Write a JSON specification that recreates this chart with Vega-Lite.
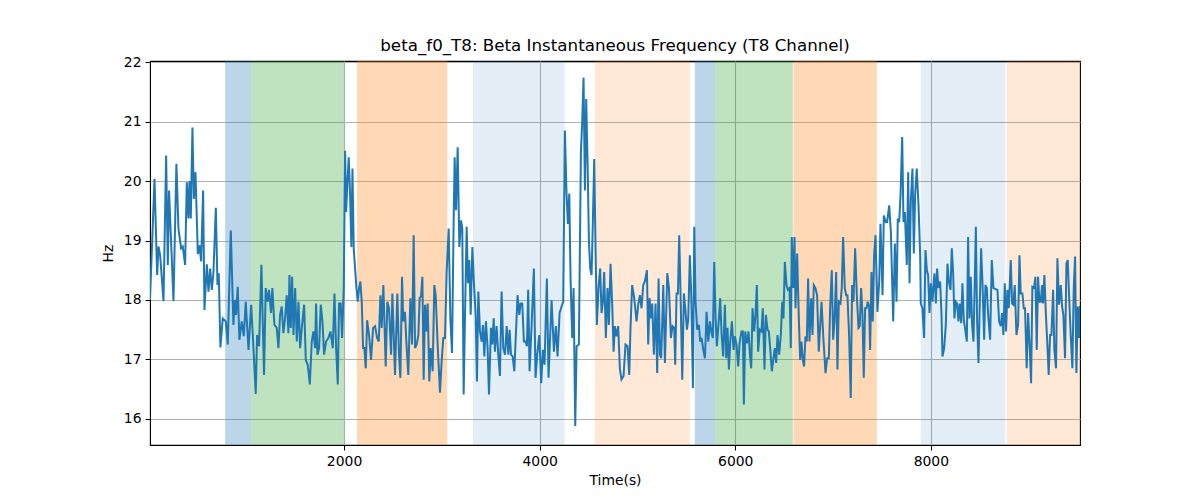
{
  "$schema": "https://vega.github.io/schema/vega-lite/v6.json",
  "width": 930,
  "height": 384,
  "autosize": {"type": "none"},
  "padding": {"left": 150, "top": 61, "right": 120, "bottom": 55},
  "title": {
    "text": "beta_f0_T8: Beta Instantaneous Frequency (T8 Channel)",
    "font": "DejaVu Sans",
    "fontSize": 16.7,
    "fontWeight": "normal",
    "color": "#000000",
    "offset": 0
  },
  "config": {
    "view": {"stroke": "#000000", "strokeWidth": 1.1},
    "axis": {
      "labelFont": "DejaVu Sans",
      "labelFontSize": 13.9,
      "labelColor": "#000000",
      "titleFont": "DejaVu Sans",
      "titleFontSize": 13.9,
      "titleFontWeight": "normal",
      "titleColor": "#000000",
      "domainColor": "#000000",
      "tickColor": "#000000",
      "tickSize": 5,
      "labelPadding": 4,
      "grid": true,
      "gridColor": "#b0b0b0",
      "gridWidth": 1.1
    }
  },
  "datasets": {
    "bands": [
      {"start": 784, "end": 1050, "kind": "a"},
      {"start": 1050, "end": 2000, "kind": "b"},
      {"start": 2133, "end": 3055, "kind": "c"},
      {"start": 3318, "end": 4255, "kind": "d"},
      {"start": 4565, "end": 5536, "kind": "e"},
      {"start": 5587, "end": 5795, "kind": "a"},
      {"start": 5795, "end": 6589, "kind": "b"},
      {"start": 6595, "end": 7448, "kind": "c"},
      {"start": 7897, "end": 8762, "kind": "d"},
      {"start": 8776, "end": 9525, "kind": "e"}
    ],
    "series": [
      {"t": 16, "hz": 18.0}, {"t": 62, "hz": 20.04}, {"t": 89, "hz": 18.42}, {"t": 103, "hz": 18.9}, {"t": 120, "hz": 18.75},
      {"t": 154, "hz": 17.98}, {"t": 181, "hz": 20.43}, {"t": 198, "hz": 18.59}, {"t": 211, "hz": 19.84}, {"t": 256, "hz": 17.98},
      {"t": 286, "hz": 20.29}, {"t": 307, "hz": 19.2}, {"t": 334, "hz": 18.87}, {"t": 351, "hz": 18.9}, {"t": 375, "hz": 18.59},
      {"t": 392, "hz": 19.98}, {"t": 409, "hz": 19.37}, {"t": 419, "hz": 20.0}, {"t": 433, "hz": 19.37}, {"t": 450, "hz": 20.9},
      {"t": 464, "hz": 19.7}, {"t": 481, "hz": 20.15}, {"t": 505, "hz": 18.77}, {"t": 522, "hz": 18.92}, {"t": 539, "hz": 18.65},
      {"t": 559, "hz": 19.84}, {"t": 573, "hz": 17.83}, {"t": 597, "hz": 18.6}, {"t": 614, "hz": 18.14}, {"t": 631, "hz": 18.53},
      {"t": 648, "hz": 18.17}, {"t": 665, "hz": 18.47}, {"t": 689, "hz": 19.55}, {"t": 706, "hz": 18.25}, {"t": 719, "hz": 18.45},
      {"t": 736, "hz": 17.2}, {"t": 760, "hz": 17.69}, {"t": 791, "hz": 17.64}, {"t": 811, "hz": 17.25}, {"t": 842, "hz": 19.17},
      {"t": 869, "hz": 17.58}, {"t": 883, "hz": 18.0}, {"t": 896, "hz": 17.75}, {"t": 913, "hz": 18.22}, {"t": 930, "hz": 17.33},
      {"t": 954, "hz": 17.64}, {"t": 975, "hz": 17.39}, {"t": 995, "hz": 17.97}, {"t": 1023, "hz": 17.16}, {"t": 1050, "hz": 17.92},
      {"t": 1067, "hz": 17.41}, {"t": 1097, "hz": 16.42}, {"t": 1111, "hz": 17.41}, {"t": 1131, "hz": 17.22}, {"t": 1155, "hz": 18.59},
      {"t": 1182, "hz": 16.74}, {"t": 1199, "hz": 18.2}, {"t": 1220, "hz": 17.97}, {"t": 1233, "hz": 18.17}, {"t": 1254, "hz": 17.78},
      {"t": 1267, "hz": 18.2}, {"t": 1288, "hz": 17.58}, {"t": 1312, "hz": 17.53}, {"t": 1329, "hz": 17.19}, {"t": 1346, "hz": 17.75},
      {"t": 1363, "hz": 17.89}, {"t": 1380, "hz": 17.44}, {"t": 1397, "hz": 17.69}, {"t": 1414, "hz": 18.08}, {"t": 1431, "hz": 17.44},
      {"t": 1442, "hz": 18.42}, {"t": 1455, "hz": 17.53}, {"t": 1469, "hz": 18.39}, {"t": 1483, "hz": 17.41}, {"t": 1500, "hz": 18.2},
      {"t": 1517, "hz": 17.3}, {"t": 1534, "hz": 17.97}, {"t": 1551, "hz": 17.19}, {"t": 1568, "hz": 17.53}, {"t": 1592, "hz": 17.92},
      {"t": 1609, "hz": 16.99}, {"t": 1629, "hz": 16.91}, {"t": 1650, "hz": 16.58}, {"t": 1670, "hz": 17.3}, {"t": 1687, "hz": 17.47},
      {"t": 1704, "hz": 17.19}, {"t": 1714, "hz": 17.94}, {"t": 1728, "hz": 17.08}, {"t": 1745, "hz": 17.19}, {"t": 1762, "hz": 17.92},
      {"t": 1779, "hz": 17.64}, {"t": 1796, "hz": 17.08}, {"t": 1816, "hz": 17.3}, {"t": 1840, "hz": 17.36}, {"t": 1861, "hz": 17.47},
      {"t": 1885, "hz": 17.19}, {"t": 1902, "hz": 18.11}, {"t": 1919, "hz": 17.19}, {"t": 1936, "hz": 16.58}, {"t": 1949, "hz": 17.94},
      {"t": 1966, "hz": 17.94}, {"t": 1980, "hz": 17.36}, {"t": 1997, "hz": 18.2}, {"t": 2011, "hz": 20.51}, {"t": 2021, "hz": 19.48},
      {"t": 2035, "hz": 19.98}, {"t": 2048, "hz": 20.4}, {"t": 2062, "hz": 19.76}, {"t": 2075, "hz": 18.89}, {"t": 2086, "hz": 20.21},
      {"t": 2099, "hz": 18.87}, {"t": 2113, "hz": 18.53}, {"t": 2127, "hz": 18.2}, {"t": 2140, "hz": 17.97}, {"t": 2154, "hz": 18.2},
      {"t": 2167, "hz": 18.31}, {"t": 2181, "hz": 17.97}, {"t": 2195, "hz": 17.19}, {"t": 2208, "hz": 17.19}, {"t": 2222, "hz": 16.85},
      {"t": 2236, "hz": 17.66}, {"t": 2256, "hz": 17.41}, {"t": 2276, "hz": 16.99}, {"t": 2297, "hz": 17.53}, {"t": 2317, "hz": 17.56},
      {"t": 2338, "hz": 17.36}, {"t": 2355, "hz": 17.3}, {"t": 2372, "hz": 18.08}, {"t": 2385, "hz": 17.53}, {"t": 2402, "hz": 18.25},
      {"t": 2426, "hz": 16.88}, {"t": 2443, "hz": 17.97}, {"t": 2460, "hz": 17.86}, {"t": 2481, "hz": 17.08}, {"t": 2494, "hz": 18.11},
      {"t": 2521, "hz": 16.74}, {"t": 2545, "hz": 18.11}, {"t": 2562, "hz": 17.08}, {"t": 2576, "hz": 16.69}, {"t": 2593, "hz": 18.39},
      {"t": 2606, "hz": 17.64}, {"t": 2623, "hz": 17.8}, {"t": 2637, "hz": 17.3}, {"t": 2657, "hz": 16.74}, {"t": 2678, "hz": 18.03},
      {"t": 2695, "hz": 17.25}, {"t": 2712, "hz": 19.09}, {"t": 2726, "hz": 17.19}, {"t": 2743, "hz": 17.25}, {"t": 2760, "hz": 17.41},
      {"t": 2773, "hz": 18.03}, {"t": 2787, "hz": 18.06}, {"t": 2801, "hz": 18.39}, {"t": 2814, "hz": 16.66}, {"t": 2828, "hz": 17.92},
      {"t": 2841, "hz": 17.47}, {"t": 2855, "hz": 17.94}, {"t": 2872, "hz": 16.63}, {"t": 2886, "hz": 17.19}, {"t": 2906, "hz": 16.8},
      {"t": 2923, "hz": 18.25}, {"t": 2937, "hz": 18.08}, {"t": 2957, "hz": 17.25}, {"t": 2981, "hz": 16.44}, {"t": 2998, "hz": 16.97},
      {"t": 3015, "hz": 17.36}, {"t": 3032, "hz": 17.36}, {"t": 3049, "hz": 18.47}, {"t": 3070, "hz": 19.2}, {"t": 3087, "hz": 17.69},
      {"t": 3104, "hz": 17.11}, {"t": 3121, "hz": 19.37}, {"t": 3131, "hz": 20.4}, {"t": 3145, "hz": 19.51}, {"t": 3162, "hz": 20.57},
      {"t": 3179, "hz": 18.89}, {"t": 3196, "hz": 19.34}, {"t": 3209, "hz": 19.2}, {"t": 3223, "hz": 16.41}, {"t": 3237, "hz": 17.75},
      {"t": 3254, "hz": 19.23}, {"t": 3267, "hz": 18.28}, {"t": 3281, "hz": 18.67}, {"t": 3295, "hz": 17.75}, {"t": 3312, "hz": 18.89},
      {"t": 3329, "hz": 18.25}, {"t": 3346, "hz": 17.75}, {"t": 3359, "hz": 16.63}, {"t": 3373, "hz": 18.14}, {"t": 3390, "hz": 17.47},
      {"t": 3407, "hz": 17.3}, {"t": 3421, "hz": 17.58}, {"t": 3434, "hz": 17.05}, {"t": 3451, "hz": 17.64}, {"t": 3468, "hz": 17.19},
      {"t": 3482, "hz": 16.41}, {"t": 3502, "hz": 17.53}, {"t": 3516, "hz": 17.25}, {"t": 3530, "hz": 17.69}, {"t": 3543, "hz": 17.13},
      {"t": 3560, "hz": 17.56}, {"t": 3577, "hz": 17.08}, {"t": 3594, "hz": 16.72}, {"t": 3611, "hz": 18.14}, {"t": 3628, "hz": 17.19},
      {"t": 3646, "hz": 17.08}, {"t": 3663, "hz": 17.56}, {"t": 3680, "hz": 17.08}, {"t": 3693, "hz": 17.5}, {"t": 3707, "hz": 17.08},
      {"t": 3724, "hz": 17.05}, {"t": 3741, "hz": 16.8}, {"t": 3774, "hz": 18.08}, {"t": 3792, "hz": 17.75}, {"t": 3805, "hz": 17.94},
      {"t": 3822, "hz": 17.94}, {"t": 3839, "hz": 17.3}, {"t": 3856, "hz": 17.3}, {"t": 3870, "hz": 17.22}, {"t": 3883, "hz": 18.17},
      {"t": 3897, "hz": 16.8}, {"t": 3918, "hz": 17.58}, {"t": 3941, "hz": 18.53}, {"t": 3958, "hz": 16.69}, {"t": 3975, "hz": 17.08},
      {"t": 3996, "hz": 17.41}, {"t": 4016, "hz": 16.6}, {"t": 4033, "hz": 17.16}, {"t": 4050, "hz": 16.91}, {"t": 4074, "hz": 18.36},
      {"t": 4091, "hz": 16.69}, {"t": 4122, "hz": 18.0}, {"t": 4146, "hz": 17.13}, {"t": 4166, "hz": 17.56}, {"t": 4183, "hz": 17.05},
      {"t": 4204, "hz": 17.78}, {"t": 4224, "hz": 17.89}, {"t": 4241, "hz": 17.97}, {"t": 4258, "hz": 20.85}, {"t": 4275, "hz": 19.79},
      {"t": 4289, "hz": 19.28}, {"t": 4303, "hz": 19.79}, {"t": 4316, "hz": 18.36}, {"t": 4333, "hz": 17.36}, {"t": 4347, "hz": 18.2},
      {"t": 4364, "hz": 15.88}, {"t": 4378, "hz": 17.22}, {"t": 4401, "hz": 17.25}, {"t": 4422, "hz": 20.49}, {"t": 4435, "hz": 20.99},
      {"t": 4449, "hz": 21.74}, {"t": 4463, "hz": 19.84}, {"t": 4476, "hz": 21.38}, {"t": 4490, "hz": 20.32}, {"t": 4504, "hz": 18.98},
      {"t": 4517, "hz": 18.53}, {"t": 4531, "hz": 18.42}, {"t": 4544, "hz": 19.31}, {"t": 4558, "hz": 20.37}, {"t": 4572, "hz": 18.81},
      {"t": 4585, "hz": 17.58}, {"t": 4602, "hz": 18.2}, {"t": 4619, "hz": 18.53}, {"t": 4633, "hz": 17.78}, {"t": 4647, "hz": 17.97},
      {"t": 4660, "hz": 18.47}, {"t": 4677, "hz": 17.36}, {"t": 4694, "hz": 18.2}, {"t": 4708, "hz": 17.58}, {"t": 4725, "hz": 18.61},
      {"t": 4742, "hz": 17.92}, {"t": 4756, "hz": 17.13}, {"t": 4769, "hz": 17.56}, {"t": 4786, "hz": 17.39}, {"t": 4803, "hz": 17.56},
      {"t": 4820, "hz": 16.85}, {"t": 4837, "hz": 16.66}, {"t": 4858, "hz": 16.72}, {"t": 4878, "hz": 17.25}, {"t": 4899, "hz": 17.22},
      {"t": 4916, "hz": 16.74}, {"t": 4929, "hz": 17.53}, {"t": 4946, "hz": 18.25}, {"t": 4967, "hz": 18.03}, {"t": 4991, "hz": 17.64},
      {"t": 5008, "hz": 17.92}, {"t": 5025, "hz": 18.08}, {"t": 5042, "hz": 17.86}, {"t": 5059, "hz": 18.25}, {"t": 5076, "hz": 18.31},
      {"t": 5097, "hz": 18.5}, {"t": 5110, "hz": 17.25}, {"t": 5124, "hz": 18.03}, {"t": 5138, "hz": 17.69}, {"t": 5151, "hz": 17.94},
      {"t": 5168, "hz": 17.08}, {"t": 5185, "hz": 17.94}, {"t": 5202, "hz": 16.77}, {"t": 5216, "hz": 18.36}, {"t": 5230, "hz": 17.08},
      {"t": 5243, "hz": 17.02}, {"t": 5264, "hz": 18.25}, {"t": 5281, "hz": 16.94}, {"t": 5305, "hz": 18.45}, {"t": 5322, "hz": 18.2},
      {"t": 5342, "hz": 17.36}, {"t": 5359, "hz": 17.56}, {"t": 5376, "hz": 17.53}, {"t": 5386, "hz": 16.91}, {"t": 5400, "hz": 18.11},
      {"t": 5414, "hz": 18.11}, {"t": 5427, "hz": 19.09}, {"t": 5441, "hz": 18.08}, {"t": 5458, "hz": 16.66}, {"t": 5475, "hz": 18.11},
      {"t": 5489, "hz": 17.86}, {"t": 5506, "hz": 17.5}, {"t": 5519, "hz": 17.66}, {"t": 5536, "hz": 18.75}, {"t": 5550, "hz": 18.08},
      {"t": 5567, "hz": 16.52}, {"t": 5581, "hz": 19.23}, {"t": 5594, "hz": 17.97}, {"t": 5611, "hz": 17.5}, {"t": 5628, "hz": 17.58},
      {"t": 5642, "hz": 17.3}, {"t": 5656, "hz": 17.36}, {"t": 5673, "hz": 17.16}, {"t": 5690, "hz": 17.02}, {"t": 5707, "hz": 17.8},
      {"t": 5724, "hz": 17.3}, {"t": 5741, "hz": 17.64}, {"t": 5758, "hz": 17.44}, {"t": 5771, "hz": 17.36}, {"t": 5785, "hz": 18.64},
      {"t": 5799, "hz": 17.69}, {"t": 5812, "hz": 17.22}, {"t": 5833, "hz": 17.69}, {"t": 5846, "hz": 18.03}, {"t": 5860, "hz": 17.44},
      {"t": 5877, "hz": 17.05}, {"t": 5894, "hz": 17.92}, {"t": 5908, "hz": 17.02}, {"t": 5921, "hz": 17.53}, {"t": 5935, "hz": 16.83},
      {"t": 5949, "hz": 17.3}, {"t": 5966, "hz": 17.64}, {"t": 5983, "hz": 17.16}, {"t": 5996, "hz": 17.39}, {"t": 6013, "hz": 17.25},
      {"t": 6030, "hz": 16.88}, {"t": 6044, "hz": 17.27}, {"t": 6064, "hz": 17.47}, {"t": 6078, "hz": 17.47}, {"t": 6088, "hz": 16.24},
      {"t": 6102, "hz": 17.47}, {"t": 6119, "hz": 17.27}, {"t": 6136, "hz": 17.47}, {"t": 6150, "hz": 17.08}, {"t": 6163, "hz": 16.85},
      {"t": 6177, "hz": 17.86}, {"t": 6194, "hz": 17.47}, {"t": 6207, "hz": 17.75}, {"t": 6221, "hz": 18.25}, {"t": 6234, "hz": 17.13},
      {"t": 6251, "hz": 17.5}, {"t": 6268, "hz": 17.47}, {"t": 6282, "hz": 17.86}, {"t": 6299, "hz": 16.83}, {"t": 6313, "hz": 17.75},
      {"t": 6330, "hz": 17.5}, {"t": 6343, "hz": 17.47}, {"t": 6357, "hz": 17.19}, {"t": 6374, "hz": 16.8}, {"t": 6391, "hz": 17.02},
      {"t": 6405, "hz": 17.19}, {"t": 6418, "hz": 16.94}, {"t": 6432, "hz": 17.41}, {"t": 6449, "hz": 17.08}, {"t": 6466, "hz": 17.41},
      {"t": 6480, "hz": 17.97}, {"t": 6493, "hz": 17.69}, {"t": 6507, "hz": 18.64}, {"t": 6524, "hz": 18.25}, {"t": 6538, "hz": 18.17},
      {"t": 6555, "hz": 18.2}, {"t": 6568, "hz": 17.19}, {"t": 6578, "hz": 19.06}, {"t": 6592, "hz": 18.2}, {"t": 6606, "hz": 19.06},
      {"t": 6616, "hz": 17.86}, {"t": 6633, "hz": 18.78}, {"t": 6650, "hz": 17.69}, {"t": 6664, "hz": 16.99}, {"t": 6677, "hz": 17.3},
      {"t": 6691, "hz": 16.99}, {"t": 6704, "hz": 16.88}, {"t": 6718, "hz": 17.39}, {"t": 6732, "hz": 17.3}, {"t": 6745, "hz": 18.36},
      {"t": 6759, "hz": 17.3}, {"t": 6776, "hz": 18.03}, {"t": 6790, "hz": 17.41}, {"t": 6803, "hz": 18.25}, {"t": 6820, "hz": 18.2},
      {"t": 6837, "hz": 18.08}, {"t": 6854, "hz": 17.13}, {"t": 6882, "hz": 17.97}, {"t": 6902, "hz": 17.33}, {"t": 6923, "hz": 16.77},
      {"t": 6940, "hz": 17.02}, {"t": 6957, "hz": 17.02}, {"t": 6970, "hz": 17.86}, {"t": 6987, "hz": 18.5}, {"t": 7001, "hz": 17.33},
      {"t": 7015, "hz": 17.64}, {"t": 7032, "hz": 18.47}, {"t": 7045, "hz": 16.83}, {"t": 7059, "hz": 17.97}, {"t": 7076, "hz": 17.94},
      {"t": 7089, "hz": 18.2}, {"t": 7103, "hz": 19.06}, {"t": 7120, "hz": 18.2}, {"t": 7134, "hz": 18.08}, {"t": 7147, "hz": 18.08},
      {"t": 7164, "hz": 17.41}, {"t": 7181, "hz": 16.35}, {"t": 7195, "hz": 18.25}, {"t": 7209, "hz": 17.97}, {"t": 7226, "hz": 18.87},
      {"t": 7243, "hz": 18.08}, {"t": 7260, "hz": 17.53}, {"t": 7273, "hz": 17.56}, {"t": 7287, "hz": 18.2}, {"t": 7301, "hz": 17.75},
      {"t": 7314, "hz": 16.69}, {"t": 7328, "hz": 17.86}, {"t": 7342, "hz": 17.86}, {"t": 7355, "hz": 17.97}, {"t": 7369, "hz": 17.89},
      {"t": 7379, "hz": 17.16}, {"t": 7393, "hz": 18.47}, {"t": 7406, "hz": 17.64}, {"t": 7420, "hz": 18.75}, {"t": 7434, "hz": 19.09},
      {"t": 7454, "hz": 17.8}, {"t": 7472, "hz": 18.31}, {"t": 7485, "hz": 19.28}, {"t": 7506, "hz": 18.08}, {"t": 7519, "hz": 19.42},
      {"t": 7540, "hz": 19.31}, {"t": 7553, "hz": 19.31}, {"t": 7574, "hz": 19.59}, {"t": 7591, "hz": 19.15}, {"t": 7615, "hz": 17.64},
      {"t": 7632, "hz": 18.95}, {"t": 7649, "hz": 17.97}, {"t": 7662, "hz": 19.37}, {"t": 7676, "hz": 19.31}, {"t": 7690, "hz": 19.76},
      {"t": 7707, "hz": 20.74}, {"t": 7720, "hz": 19.31}, {"t": 7734, "hz": 19.48}, {"t": 7754, "hz": 18.59}, {"t": 7768, "hz": 20.15},
      {"t": 7782, "hz": 18.28}, {"t": 7795, "hz": 19.65}, {"t": 7812, "hz": 20.21}, {"t": 7826, "hz": 18.78}, {"t": 7839, "hz": 19.76},
      {"t": 7856, "hz": 20.21}, {"t": 7874, "hz": 19.59}, {"t": 7891, "hz": 18.73}, {"t": 7897, "hz": 17.94}, {"t": 7914, "hz": 17.86},
      {"t": 7931, "hz": 17.36}, {"t": 7945, "hz": 18.84}, {"t": 7959, "hz": 18.5}, {"t": 7972, "hz": 18.42}, {"t": 7986, "hz": 17.78},
      {"t": 8000, "hz": 18.28}, {"t": 8017, "hz": 17.97}, {"t": 8027, "hz": 18.25}, {"t": 8037, "hz": 18.45}, {"t": 8051, "hz": 17.94},
      {"t": 8064, "hz": 18.53}, {"t": 8078, "hz": 18.2}, {"t": 8095, "hz": 18.31}, {"t": 8109, "hz": 17.75}, {"t": 8119, "hz": 17.05},
      {"t": 8136, "hz": 17.19}, {"t": 8153, "hz": 17.58}, {"t": 8170, "hz": 18.61}, {"t": 8184, "hz": 18.31}, {"t": 8201, "hz": 18.17},
      {"t": 8214, "hz": 18.87}, {"t": 8228, "hz": 18.45}, {"t": 8241, "hz": 17.69}, {"t": 8255, "hz": 17.97}, {"t": 8269, "hz": 17.94},
      {"t": 8282, "hz": 17.64}, {"t": 8296, "hz": 17.94}, {"t": 8310, "hz": 17.61}, {"t": 8323, "hz": 18.28}, {"t": 8337, "hz": 17.66},
      {"t": 8354, "hz": 17.47}, {"t": 8368, "hz": 17.3}, {"t": 8381, "hz": 19.06}, {"t": 8395, "hz": 17.69}, {"t": 8408, "hz": 18.39},
      {"t": 8422, "hz": 17.58}, {"t": 8436, "hz": 17.3}, {"t": 8449, "hz": 18.31}, {"t": 8460, "hz": 19.23}, {"t": 8473, "hz": 17.64},
      {"t": 8487, "hz": 16.94}, {"t": 8500, "hz": 17.92}, {"t": 8514, "hz": 18.87}, {"t": 8528, "hz": 18.28}, {"t": 8545, "hz": 17.33},
      {"t": 8558, "hz": 18.25}, {"t": 8572, "hz": 18.2}, {"t": 8586, "hz": 17.75}, {"t": 8606, "hz": 17.33}, {"t": 8623, "hz": 18.67},
      {"t": 8640, "hz": 18.2}, {"t": 8681, "hz": 18.17}, {"t": 8698, "hz": 17.64}, {"t": 8715, "hz": 17.56}, {"t": 8728, "hz": 17.78},
      {"t": 8742, "hz": 17.41}, {"t": 8756, "hz": 18.28}, {"t": 8769, "hz": 17.47}, {"t": 8783, "hz": 18.17}, {"t": 8797, "hz": 17.86},
      {"t": 8817, "hz": 18.67}, {"t": 8831, "hz": 17.94}, {"t": 8844, "hz": 17.92}, {"t": 8858, "hz": 18.25}, {"t": 8875, "hz": 17.41},
      {"t": 8892, "hz": 17.58}, {"t": 8906, "hz": 18.75}, {"t": 8919, "hz": 18.11}, {"t": 8936, "hz": 18.11}, {"t": 8950, "hz": 17.86},
      {"t": 8963, "hz": 17.86}, {"t": 8980, "hz": 16.85}, {"t": 8994, "hz": 17.78}, {"t": 9011, "hz": 17.19}, {"t": 9025, "hz": 16.6},
      {"t": 9038, "hz": 18.22}, {"t": 9055, "hz": 18.2}, {"t": 9069, "hz": 18.39}, {"t": 9083, "hz": 17.16}, {"t": 9096, "hz": 18.39},
      {"t": 9110, "hz": 17.97}, {"t": 9124, "hz": 17.97}, {"t": 9137, "hz": 18.25}, {"t": 9147, "hz": 17.94}, {"t": 9161, "hz": 18.42},
      {"t": 9175, "hz": 17.8}, {"t": 9192, "hz": 17.22}, {"t": 9205, "hz": 16.74}, {"t": 9219, "hz": 17.41}, {"t": 9233, "hz": 17.41},
      {"t": 9250, "hz": 18.17}, {"t": 9263, "hz": 17.16}, {"t": 9280, "hz": 16.85}, {"t": 9294, "hz": 18.7}, {"t": 9311, "hz": 17.92},
      {"t": 9328, "hz": 18.25}, {"t": 9342, "hz": 17.89}, {"t": 9355, "hz": 17.75}, {"t": 9372, "hz": 17.02}, {"t": 9386, "hz": 18.61},
      {"t": 9400, "hz": 18.67}, {"t": 9413, "hz": 18.08}, {"t": 9430, "hz": 17.41}, {"t": 9447, "hz": 16.85}, {"t": 9461, "hz": 18.2},
      {"t": 9475, "hz": 18.73}, {"t": 9488, "hz": 16.77}, {"t": 9502, "hz": 17.89}, {"t": 9515, "hz": 17.36}, {"t": 9525, "hz": 17.9}
    ]
  },
  "layer": [
    {
      "data": {"name": "bands"},
      "mark": {"type": "rect", "strokeWidth": 0},
      "encoding": {
        "x": {
          "field": "start",
          "type": "quantitative",
          "scale": {"domain": [16, 9525], "nice": false, "zero": false},
          "axis": {"values": [2000, 4000, 6000, 8000], "format": "d", "title": "Time(s)", "titlePadding": 6}
        },
        "x2": {"field": "end"},
        "color": {
          "field": "kind",
          "type": "nominal",
          "scale": {
            "domain": ["a", "b", "c", "d", "e"],
            "range": [
              "rgba(31,119,180,0.3)",
              "rgba(44,160,44,0.3)",
              "rgba(255,127,14,0.3)",
              "rgba(31,119,180,0.12)",
              "rgba(255,127,14,0.17)"
            ]
          },
          "legend": null
        }
      }
    },
    {
      "data": {"name": "series"},
      "mark": {"type": "line", "color": "#1f77b4", "strokeWidth": 2, "clip": true},
      "encoding": {
        "x": {"field": "t", "type": "quantitative"},
        "y": {
          "field": "hz",
          "type": "quantitative",
          "scale": {"domain": [15.56, 22.02], "nice": false, "zero": false},
          "axis": {"values": [16, 17, 18, 19, 20, 21, 22], "title": "Hz", "titlePadding": 8}
        }
      }
    }
  ]
}
